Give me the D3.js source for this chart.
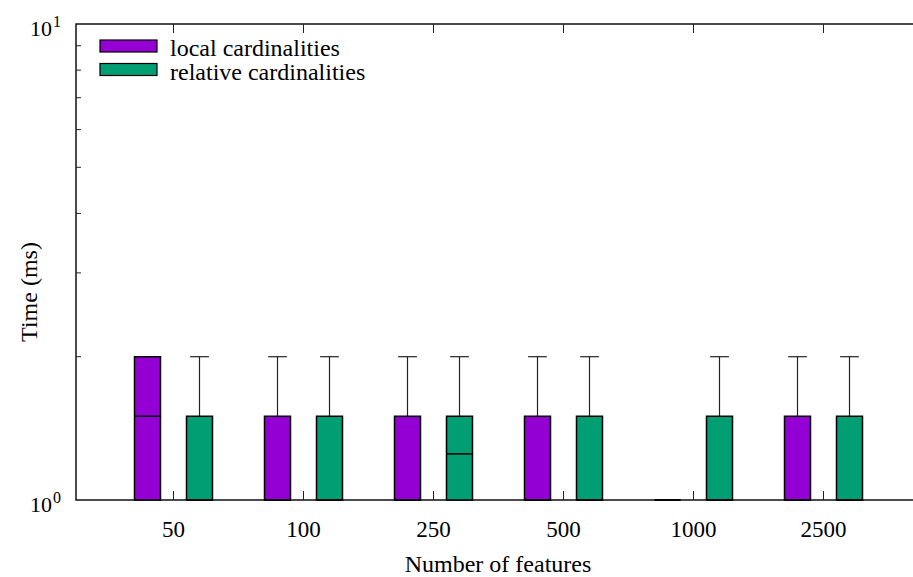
<!DOCTYPE html>
<meta charset="utf-8">
<head>
  <script src="https://d3js.org/d3.v7.min.js"></script>
  <style>
    body { margin: 0; background: white; overflow: hidden; }
  </style>
</head>
<body>
  <div id="chart"></div>
  <script>
    // data: [min, q1, median, q3, max] per category
    var categories = ["50", "100", "250", "500", "1000", "2500"];
    var localStats = [
      [1, 1, 1.5, 2, 2],
      [1, 1, 1, 1.5, 2],
      [1, 1, 1, 1.5, 2],
      [1, 1, 1, 1.5, 2],
      [1, 1, 1, 1, 1],
      [1, 1, 1, 1.5, 2]
    ];
    var relativeStats = [
      [1, 1, 1, 1.5, 2],
      [1, 1, 1, 1.5, 2],
      [1, 1, 1.25, 1.5, 2],
      [1, 1, 1, 1.5, 2],
      [1, 1, 1, 1.5, 2],
      [1, 1, 1, 1.5, 2]
    ];
    var seriesNames = ["local cardinalities", "relative cardinalities"];
    var seriesColors = ["#9400d3", "#009e73"];

    var W = 913, H = 577;
    var margin = { left: 76, top: 24, bottom: 77 };
    var plotH = H - margin.top - margin.bottom;

    var svg = d3.select("#chart").append("svg")
      .attr("width", W).attr("height", H);

    function label(px, py, size, str) {
      return svg.append("text").attr("x", px).attr("y", py)
        .attr("font-family", "'Liberation Serif'")
        .attr("font-size", size).attr("fill", "black")
        .text(str);
    }

    var x = d3.scaleLinear().domain([0.25, 6.75]).range([76, 921]);
    var y = d3.scaleLog().domain([1, 10]).range([margin.top + plotH, margin.top]);

    var boxW = x(0.2) - x(0);
    var offsets = [-0.2, 0.2];

    // frame
    svg.append("rect")
      .attr("x", x(0.25)).attr("y", y(10))
      .attr("width", x(6.75) - x(0.25)).attr("height", y(1) - y(10))
      .attr("fill", "none").attr("stroke", "#111").attr("stroke-width", 1.5);

    // x ticks (bottom + mirrored top)
    categories.forEach(function (c, i) {
      var cx = x(i + 1);
      svg.append("line").attr("x1", cx).attr("x2", cx)
        .attr("y1", y(1)).attr("y2", y(1) - 9)
        .attr("stroke", "#222").attr("stroke-width", 1);
      svg.append("line").attr("x1", cx).attr("x2", cx)
        .attr("y1", y(10)).attr("y2", y(10) + 9)
        .attr("stroke", "#222").attr("stroke-width", 1);
      label(cx, 537, 23, c).attr("text-anchor", "middle");
    });

    // y minor ticks
    d3.range(2, 10).forEach(function (v) {
      svg.append("line").attr("x1", x(0.25)).attr("x2", x(0.25) + 5)
        .attr("y1", y(v)).attr("y2", y(v))
        .attr("stroke", "#222").attr("stroke-width", 1);
    });

    // y tick labels 10^0, 10^1
    [[1, "0"], [10, "1"]].forEach(function (t) {
      label(52, y(t[0]) + 12, 22, "10").attr("text-anchor", "end");
      label(53, y(t[0]) + 2.5, 16, t[1]);
    });

    // boxes
    [localStats, relativeStats].forEach(function (stats, s) {
      var g = svg.append("g");
      stats.forEach(function (d, i) {
        var cx = x(i + 1 + offsets[s]);
        var x0 = cx - boxW / 2, x1 = cx + boxW / 2;
        if (d[4] > d[3]) {
          g.append("line").attr("x1", cx).attr("x2", cx)
            .attr("y1", y(d[3])).attr("y2", y(d[4]))
            .attr("stroke", "#222").attr("stroke-width", 1.2);
          g.append("line").attr("x1", cx - boxW * 0.36).attr("x2", cx + boxW * 0.36)
            .attr("y1", y(d[4])).attr("y2", y(d[4]))
            .attr("stroke", "#222").attr("stroke-width", 1.2);
        }
        g.append("path")
          .attr("d", "M" + x0 + "," + y(d[1]) + "L" + x0 + "," + y(d[3]) +
            "L" + x1 + "," + y(d[3]) + "L" + x1 + "," + y(d[1]) + "Z")
          .attr("fill", seriesColors[s])
          .attr("stroke", "black").attr("stroke-width", 1.5);
        g.append("line").attr("x1", x0).attr("x2", x1)
          .attr("y1", y(d[2])).attr("y2", y(d[2]))
          .attr("stroke", "black").attr("stroke-width", 1.5);
      });
    });

    // legend
    seriesNames.forEach(function (n, s) {
      var ly = 40 + s * 23.5;
      svg.append("rect").attr("x", 100).attr("y", ly)
        .attr("width", 57).attr("height", 12)
        .attr("fill", seriesColors[s]).attr("stroke", "black").attr("stroke-width", 1.2);
      label(170, ly + 16, 24, n);
    });

    // axis titles
    label(498, 572, 24, "Number of features").attr("text-anchor", "middle");
    label(0, 0, 24, "Time (ms)")
      .attr("transform", "translate(37,292) rotate(-90)")
      .attr("text-anchor", "middle");
  </script>
</body>
</html>
